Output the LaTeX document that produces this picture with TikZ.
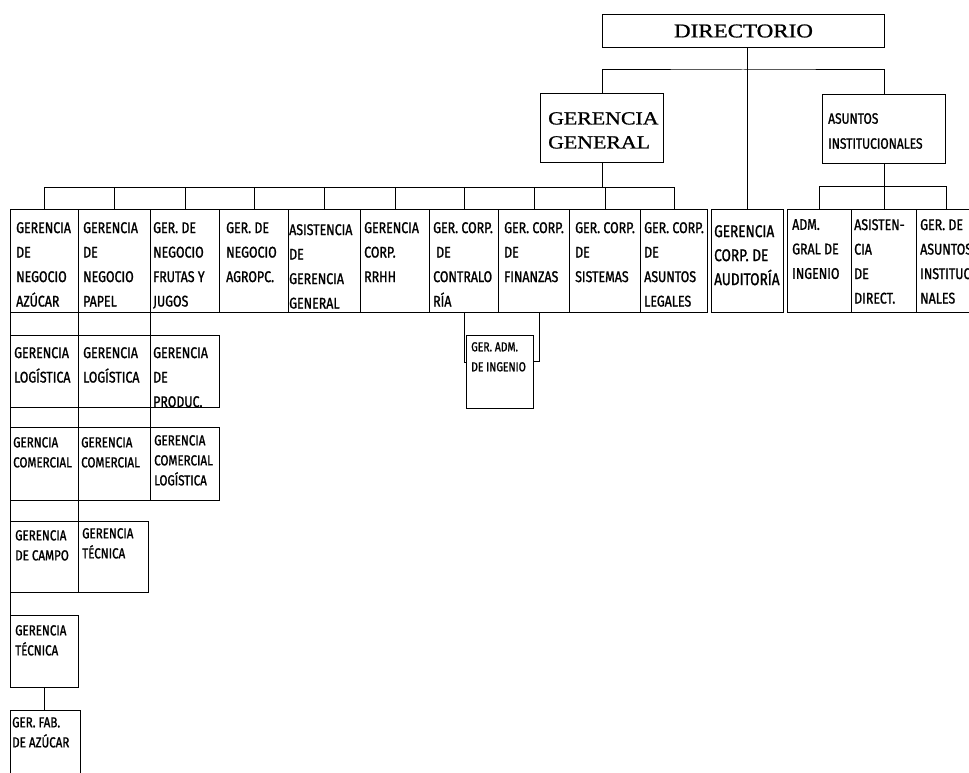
\documentclass[tikz,border=0pt]{standalone}
\usepackage{fontspec}
\usetikzlibrary{positioning,calc}
\newfontfamily\condfont[FakeStretch=0.8, FakeBold=1.2]{Fira Sans}
\newfontfamily\headfont[FakeStretch=1.18, FakeBold=1]{Liberation Serif}

\tikzset{
  cell/.style={draw=black, line width=1pt, inner sep=0pt, anchor=north west},
  txt/.style={anchor=north west, inner sep=0pt, align=left, xshift=5pt, yshift=-13pt,
    font=\condfont\fontsize{15.5}{24.5}\selectfont},
  txtsm/.style={font=\condfont\fontsize{14.5}{20}\selectfont},
  link/.style={draw=black, line width=1pt},
}

% box from (x1,y1) to (x2,y2), text in the upper left corner
\newcommand{\orgcell}[7][]{%
  \node[cell, minimum width={#5-#3}, minimum height={#6-#4}] (#2) at (#3,#4) {};
  \node[txt, #1] (#2-t) at (#2.north west) {#7};}

\begin{document}
\begin{tikzpicture}[x=1pt, y=-1pt]
\useasboundingbox (0,0) rectangle (969,773);
\clip (0,0) rectangle (969,773);

% Top level
\node[cell, minimum width=282, minimum height=33, font=\headfont\fontsize{19.5}{24}\selectfont] (dir) at (602,14) {DIRECTORIO};
\orgcell[xshift=3pt, yshift=-6pt, font=\headfont\fontsize{18.5}{24}\selectfont]{gg}{540}{93}{663}{162}{GERENCIA\\GENERAL}
\orgcell[xshift=1pt, yshift=-6pt, font=\condfont\fontsize{15}{25}\selectfont]{asuntos}{822}{94}{945}{163}{ASUNTOS\\INSTITUCIONALES}

% First row
\orgcell[xshift=1pt]{azucar}{10}{209}{78}{312}{GERENCIA\\DE\\NEGOCIO\\AZÚCAR}
\orgcell{papel}{78}{209}{150}{312}{GERENCIA\\DE\\NEGOCIO\\PAPEL}
\orgcell[xshift=-2pt]{frutas}{150}{209}{219}{312}{GER. DE\\NEGOCIO\\FRUTAS Y\\JUGOS}
\orgcell[xshift=2pt]{agropc}{219}{209}{288}{312}{GER. DE\\NEGOCIO\\AGROPC.}
\orgcell[xshift=-4pt, yshift=-2pt]{asistgg}{288}{209}{360}{312}{ASISTENCIA\\DE\\GERENCIA\\GENERAL}
\orgcell[xshift=-1pt]{rrhh}{360}{209}{429}{312}{GERENCIA\\CORP.\\RRHH}
\orgcell[xshift=-1pt]{contral}{429}{209}{498}{312}{GER. CORP.\\\hspace*{3pt}DE\\CONTRALO\\RÍA}
\orgcell[xshift=1pt]{finanzas}{498}{209}{569}{312}{GER. CORP.\\DE\\FINANZAS}
\orgcell[xshift=1pt]{sistemas}{569}{209}{640}{312}{GER. CORP.\\DE\\SISTEMAS}
\orgcell[xshift=-1pt]{legales}{640}{209}{707}{312}{GER. CORP.\\DE\\ASUNTOS\\LEGALES}
\orgcell[xshift=-2pt, yshift=-3pt, font=\condfont\fontsize{17}{24}\selectfont]{audit}{711}{209}{783}{312}{GERENCIA\\CORP. DE\\AUDITORÍA}
\orgcell[yshift=3pt]{admgral}{787}{209}{851}{312}{ADM.\\GRAL DE\\INGENIO}
\orgcell[xshift=-2pt, yshift=3pt]{asistdir}{851}{209}{916}{312}{ASISTEN-\\CIA\\DE\\DIRECT.}
\orgcell[xshift=-1pt, yshift=3pt]{instit}{916}{209}{976}{312}{GER. DE\\ASUNTOS\\INSTITUCIO\\NALES}

% Lower rows
\orgcell[xshift=-1pt, yshift=1pt]{logis1}{10}{335}{78}{407}{GERENCIA\\LOGÍSTICA}
\orgcell[yshift=1pt]{logis2}{78}{335}{150}{407}{GERENCIA\\LOGÍSTICA}
\orgcell[xshift=-2pt, yshift=1pt]{produc}{150}{335}{219}{407}{GERENCIA\\DE\\PRODUC.}
\orgcell[txtsm, yshift=6pt, font=\condfont\fontsize{13}{20}\selectfont]{ingenio}{466}{335}{533}{408}{GER. ADM.\\DE INGENIO}
\orgcell[txtsm, xshift=-2pt, yshift=3pt]{comer1}{10}{427}{78}{500}{GERNCIA\\COMERCIAL}
\orgcell[txtsm, xshift=-2pt, yshift=3pt]{comer2}{78}{427}{150}{500}{GERENCIA\\COMERCIAL}
\orgcell[txtsm, xshift=-1pt, yshift=5pt]{comlog}{150}{427}{219}{500}{GERENCIA\\COMERCIAL\\LOGÍSTICA}
\orgcell[txtsm, yshift=4pt]{campo}{10}{521}{78}{592}{GERENCIA\\DE CAMPO}
\orgcell[txtsm, xshift=-1pt, yshift=6pt]{tecnica1}{78}{521}{148}{592}{GERENCIA\\TÉCNICA}
\orgcell[txtsm, yshift=3pt]{tecnica2}{10}{615}{78}{687}{GERENCIA\\TÉCNICA}
\orgcell[txtsm, xshift=-3pt, yshift=6pt]{fabric}{10}{710}{80}{790}{GER. FAB.\\DE AZÚCAR}

% Links from the top
\coordinate (topbus) at (743,70);
\draw[link] (gg.north) |- (topbus) -| (asuntos.north);
\draw[link] (audit.north) -- (audit.north |- dir.south);

\coordinate (ggbus) at (602,187);
\draw[link] (gg.south) -- (gg.south |- ggbus);
\draw[link] (azucar.north |- ggbus) -- (legales.north |- ggbus);
\foreach \n in {azucar,papel,frutas,agropc,asistgg,rrhh,contral,finanzas,sistemas,legales}
  \draw[link] (\n.north) -- (\n.north |- ggbus);

\coordinate (asbus) at (883,186);
\draw[link] (asuntos.south) -- (asuntos.south |- asbus);
\draw[link] (admgral.north |- asbus) -- (instit.north |- asbus);
\foreach \n in {admgral,asistdir,instit}
  \draw[link] (\n.north) -- (\n.north |- asbus);

% Column links
\draw[link] (azucar.south west) -- (logis1.north west);
\draw[link] (papel.south west) -- (logis2.north west);
\draw[link] (frutas.south west) -- (produc.north west);
\draw[link] (logis1.south west) -- (comer1.north west);
\draw[link] (logis2.south west) -- (comer2.north west);
\draw[link] (produc.south west) -- (comlog.north west);
\draw[link] (comer1.south west) -- (campo.north west);
\draw[link] (comer2.south west) -- (tecnica1.north west);
\draw[link] (campo.south west) -- (tecnica2.north west);
\draw[link] (tecnica2.south) -- (tecnica2.south |- fabric.north);

% Ingenio
\draw[link] (contral.south) |- ([yshift=10pt]ingenio.west);
\draw[link] ([xshift=5pt]finanzas.south) |- ([yshift=11pt]ingenio.east);

\end{tikzpicture}
\end{document}
